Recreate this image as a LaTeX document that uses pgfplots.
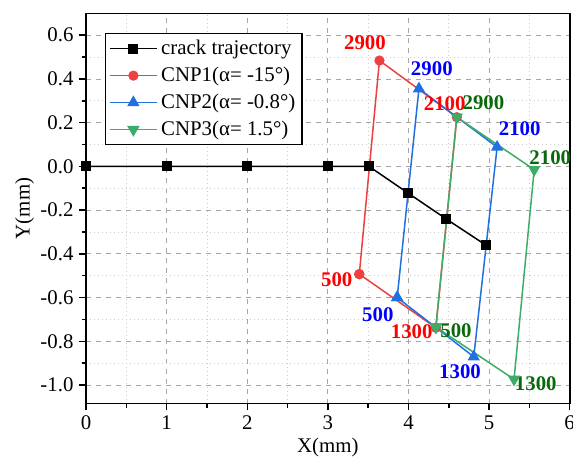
\documentclass[border=0pt]{standalone}
\usepackage{pgfplots}
\pgfplotsset{compat=1.18}
\usepackage{fontspec}
\setmainfont{Liberation Serif}

\definecolor{cnpred}{RGB}{238,64,64}
\definecolor{cnpblue}{RGB}{32,112,224}
\definecolor{cnpgreen}{RGB}{60,172,104}
\definecolor{lblgreen}{RGB}{10,105,10}

\begin{document}
\begin{tikzpicture}
\begin{axis}[
    scale only axis,
    width=290pt,
    height=234pt,
    xmin=0, xmax=6,
    ymin=-1.085, ymax=0.7,
    xtick={0,1,2,3,4,5,6},
    ytick={-1.0,-0.8,-0.6,-0.4,-0.2,0.0,0.2,0.4,0.6},
    minor x tick num=1,
    minor y tick num=1,
    xtick pos=bottom,
    ytick pos=left,
    tick align=outside,
    major tick length=4pt,
    minor tick length=2.5pt,
    axis line style={line width=1pt},
    every tick/.style={black, line width=0.9pt},
    grid=both,
    major grid style={dashed, gray!70, line width=0.5pt},
    minor grid style={dotted, gray!40, line width=0.5pt},
    xticklabel style={/pgf/number format/assume math mode=true},
    yticklabel style={/pgf/number format/assume math mode=true,
        /pgf/number format/fixed, /pgf/number format/fixed zerofill,
        /pgf/number format/precision=1},
    tick label style={font=\fontsize{12.5}{14}\selectfont},
    label style={font=\fontsize{12.5}{14}\selectfont},
    xlabel={X(mm)},
    ylabel={Y(mm)},
    xlabel style={yshift=2pt},
    ylabel style={yshift=-3pt},
    legend style={at={(rel axis cs:0.039,0.95)}, anchor=north west,
        draw=black, line width=0.8pt, fill=white,
        font=\fontsize{12.5}{14}\selectfont,
        row sep=2pt, inner xsep=2pt, inner ysep=2pt},
    legend cell align=left,
    legend image code/.code={
        \draw[mark repeat=2,mark phase=2] plot coordinates {(0cm,0cm) (0.5cm,0cm) (1.0cm,0cm)};},
    clip=false,
]

% crack trajectory
\addplot[black, line width=0.9pt, mark=square*, mark size=2.6pt] coordinates {
    (0,0) (1,0) (2,0) (3,0) (3.51,0) (3.99,-0.121) (4.47,-0.241) (4.96,-0.36)
};

% CNP1, alpha = -15 deg: 500 -> 2900 -> 2100 -> 1300 -> 500
\addplot[cnpred, line width=0.9pt, mark=*, mark size=2.6pt] coordinates {
    (3.39,-0.493) (3.64,0.484) (4.60,0.225) (4.34,-0.738) (3.39,-0.493)
};

% CNP2, alpha = -0.8 deg
\addplot[cnpblue, line width=0.9pt, mark=triangle*, mark size=3.4pt] coordinates {
    (3.86,-0.600) (4.13,0.355) (5.10,0.088) (4.81,-0.871) (3.86,-0.600)
};

% CNP3, alpha = 1.5 deg
\addplot[cnpgreen, line width=0.9pt, mark=triangle*, mark size=3.4pt,
    every mark/.append style={rotate=180}] coordinates {
    (4.34,-0.735) (4.60,0.225) (5.56,-0.015) (5.31,-0.974) (4.34,-0.735)
};

\legend{crack trajectory, CNP1(α= -15°), CNP2(α= -0.8°), CNP3(α= 1.5°)}

% cycle labels
\begin{scope}[every node/.style={font=\bfseries\fontsize{12.5}{14}\selectfont, inner sep=0pt}]
\node[text=red] at (axis cs:3.46,0.566) {2900};
\node[text=red] at (axis cs:4.45,0.288) {2100};
\node[text=red] at (axis cs:3.11,-0.52) {500};
\node[text=red] at (axis cs:4.04,-0.757) {1300};
\node[text=blue] at (axis cs:4.29,0.447) {2900};
\node[text=blue] at (axis cs:5.38,0.173) {2100};
\node[text=blue] at (axis cs:3.62,-0.68) {500};
\node[text=blue] at (axis cs:4.64,-0.94) {1300};
\node[text=lblgreen] at (axis cs:4.93,0.29) {2900};
\node[text=lblgreen] at (axis cs:5.76,0.042) {2100};
\node[text=lblgreen] at (axis cs:4.59,-0.752) {500};
\node[text=lblgreen] at (axis cs:5.58,-0.995) {1300};
\end{scope}
\end{axis}
\pgfresetboundingbox
\useasboundingbox ([xshift=-51.6pt,yshift=-33pt]current axis.south west)
    rectangle ([xshift=2pt,yshift=8pt]current axis.north east);
\end{tikzpicture}
\end{document}
